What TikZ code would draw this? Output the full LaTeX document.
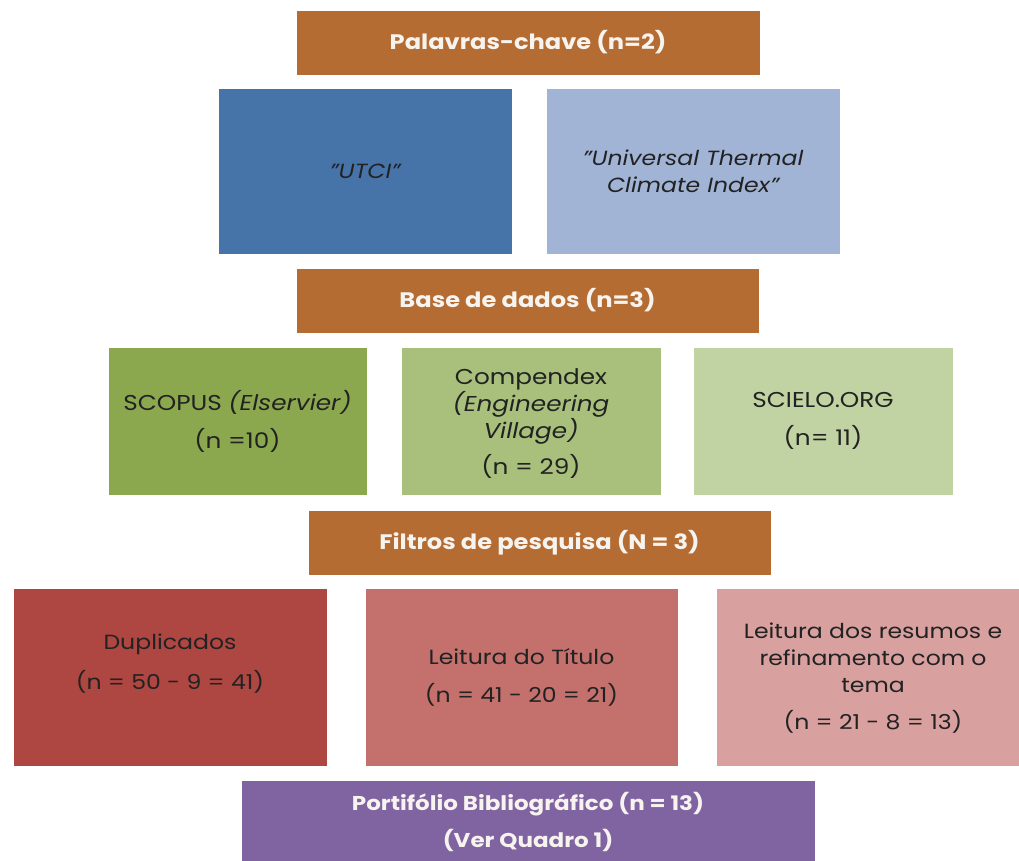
\documentclass[tikz,border=0pt]{standalone}
\usepackage{fontspec}
\setmainfont{Poppins}[FakeStretch=1.15]
\definecolor{brownbox}{HTML}{B46C33}
\definecolor{blueA}{HTML}{4674A9}
\definecolor{blueB}{HTML}{A1B4D6}
\definecolor{greenA}{HTML}{8CA84E}
\definecolor{greenB}{HTML}{A8C07C}
\definecolor{greenC}{HTML}{C2D3A3}
\definecolor{redA}{HTML}{AE4642}
\definecolor{redB}{HTML}{C4706C}
\definecolor{redC}{HTML}{D8A09E}
\definecolor{purplebox}{HTML}{8063A1}
\definecolor{darktext}{HTML}{222222}
\definecolor{lighttext}{HTML}{F7F3EE}
\newcommand{\dq}{\char34\relax}
\tikzset{
  box/.style={rectangle, draw=white, line width=0.6pt, inner sep=0pt, align=center},
  head/.style={box, fill=brownbox, text=lighttext, font=\fontsize{21}{26}\selectfont\bfseries},
  body/.style={box, text=darktext, font=\fontsize{20.5}{27}\selectfont},
  greenbody/.style={box, text=darktext, font=\fontsize{21.5}{27}\selectfont},
  label/.style={rectangle, draw=none, inner sep=0pt, align=center, text=darktext, font=\fontsize{20.5}{27}\selectfont},
}
\begin{document}
\begin{tikzpicture}[x=1pt,y=-1pt]
\useasboundingbox (0,0) rectangle (1019,860);
\node[head, minimum width=464pt, minimum height=65pt] (kw) at (528,42.5) {Palavras-chave (n=2)};
\node[body, fill=blueA, minimum width=294pt, minimum height=166pt] (utci) at (365,171) {\itshape \dq UTCI\dq};
\node[body, fill=blueB, minimum width=294pt, minimum height=166pt] (utcifull) at (693,171) {\itshape \dq Universal Thermal\\\itshape Climate Index\dq};
\node[head, minimum width=463pt, minimum height=65pt] (db) at (527.5,300.5) {Base de dados (n=3)};
\node[greenbody, fill=greenA, minimum width=259pt, minimum height=148pt] (scopus) at (237.5,421) {SCOPUS \textit{(Elservier)}\\[11pt](n =10)};
\node[greenbody, fill=greenB, minimum width=260pt, minimum height=148pt] (comp) at (531,421) {};
\node[label, font=\fontsize{21.5}{27}\selectfont] (comptext) at (531,424) {Compendex\\\textit{(Engineering}\\\textit{Village)}\\[9pt](n = 29)};
\node[greenbody, fill=greenC, minimum width=260pt, minimum height=148pt] (scielo) at (823,421) {SCIELO.ORG\\[11pt](n= 11)};
\node[head, minimum width=463pt, minimum height=65pt] (filt) at (539.5,542.5) {Filtros de pesquisa (N = 3)};
\node[body, fill=redA, minimum width=314pt, minimum height=178pt] (dup) at (170,677) {};
\node[label] (duptext) at (170,664) {Duplicados\\[13pt](n = 50 - 9 = 41)};
\node[body, fill=redB, minimum width=313pt, minimum height=178pt] (tit) at (521.5,677) {Leitura do Título\\[11pt](n = 41 - 20 = 21)};
\node[body, fill=redC, minimum width=314pt, minimum height=178pt] (res) at (873,677) {};
\node[label] (restext) at (873,678) {Leitura dos resumos e\\refinamento com o\\tema\\[10pt](n = 21 - 8 = 13)};
\node[head, fill=purplebox, minimum width=574pt, minimum height=92pt] (port) at (528,826) {};
\node[rectangle, inner sep=0pt, align=center, text=lighttext, font=\fontsize{20}{26}\selectfont\bfseries] (porttext) at (528,822) {Portifólio Bibliográfico (n = 13)\\[11pt](Ver Quadro 1)};
\end{tikzpicture}
\end{document}
